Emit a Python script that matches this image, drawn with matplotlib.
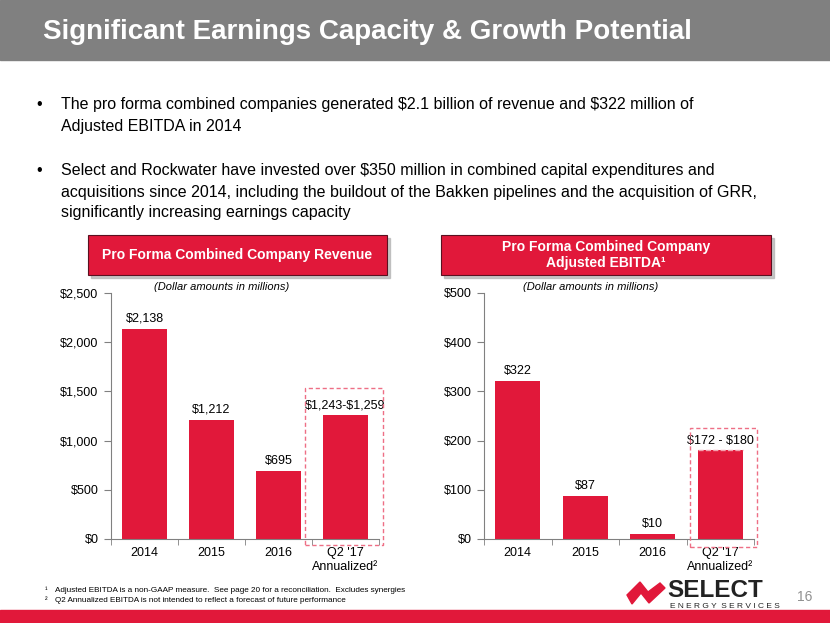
import numpy as np
import matplotlib.pyplot as plt
from matplotlib.patches import Rectangle, Polygon

# Dados
categorias = ["2014", "2015", "2016", "Q2 '17\nAnnualized²"]
receita = [2138, 1212, 695, 1259]
receita_rotulos = ["$2,138", "$1,212", "$695", "$1,243-$1,259"]
ebitda = [322, 87, 10, 180]
ebitda_faixa = (172, 180)
ebitda_rotulos = ["$322", "$87", "$10", "$172 - $180"]
receita_ticks = [0, 500, 1000, 1500, 2000, 2500]
ebitda_ticks = [0, 100, 200, 300, 400, 500]

W, H = 830, 623
VERMELHO = "#E1183A"
CINZA = "#808080"

plt.rcParams['font.family'] = ['Liberation Sans', 'DejaVu Sans']
plt.rcParams['text.parse_math'] = False  # cifrões literais

fig = plt.figure(figsize=(W / 100, H / 100), dpi=100)


def caixa(x0, y0, x1, y1):
    # converte pixels (origem no topo) para fração da figura
    return [x0 / W, 1 - y1 / H, (x1 - x0) / W, (y1 - y0) / H]


# Fundo / elementos do slide
bg = fig.add_axes([0, 0, 1, 1], zorder=0)
bg.set_xlim(0, W)
bg.set_ylim(H, 0)
bg.axis('off')

bg.add_patch(Rectangle((0, 0), W, 60, color=CINZA))
bg.text(43, 32, "Significant Earnings Capacity & Growth Potential", color="white",
        fontsize=20, fontweight="bold", va="center", ha="left")

bullets = [
    (105, "The pro forma combined companies generated $2.1 billion of revenue and $322 million of"),
    (127, "Adjusted EBITDA in 2014"),
    (171, "Select and Rockwater have invested over $350 million in combined capital expenditures and"),
    (192, "acquisitions since 2014, including the buildout of the Bakken pipelines and the acquisition of GRR,"),
    (213, "significantly increasing earnings capacity"),
]
for y, txt in bullets:
    bg.text(61, y, txt, fontsize=11.5, va="center", ha="left", color="black")
bg.text(36, 105, "•", fontsize=11.5, va="center")
bg.text(36, 171, "•", fontsize=11.5, va="center")

# Cabeçalhos vermelhos com sombra
for (x0, x1, txt) in [(88, 387, "Pro Forma Combined Company Revenue"),
                      (441, 771, "Pro Forma Combined Company\nAdjusted EBITDA¹")]:
    bg.add_patch(Rectangle((x0 + 3, 238), x1 - x0, 40, color="#B0B0B0", alpha=0.7))
    bg.add_patch(Rectangle((x0, 235), x1 - x0, 40, facecolor=VERMELHO, edgecolor="#5A1020", lw=0.8))
    bg.text((x0 + x1) / 2, 255, txt, color="white", fontsize=10, fontweight="bold",
            ha="center", va="center", linespacing=1.1)

bg.text(222, 287, "(Dollar amounts in millions)", fontsize=8, style="italic", ha="center", va="center")
bg.text(591, 287, "(Dollar amounts in millions)", fontsize=8, style="italic", ha="center", va="center")

# Notas de rodapé
bg.text(45, 590, "¹", fontsize=5.5, va="center")
bg.text(55, 590, "Adjusted EBITDA is a non-GAAP measure.  See page 20 for a reconciliation.  Excludes synergies",
        fontsize=5.9, va="center")
bg.text(45, 601, "²", fontsize=5.5, va="center")
bg.text(55, 601, "Q2 Annualized EBITDA is not intended to reflect a forecast of future performance",
        fontsize=5.9, va="center")
bg.text(805, 597, "16", fontsize=10, color="#909090", ha="center", va="center")
bg.add_patch(Rectangle((0, 610), W, 13, color=VERMELHO))

# Logo (aproximação)
bg.add_patch(Polygon([(627, 595), (640, 582), (648, 592), (660, 583), (665, 588), (649, 603),
                      (641, 593), (632, 604)], closed=True, color=VERMELHO))
bg.text(667, 597, "SELECT", fontsize=17.5, fontweight="heavy", color="#222222", va="baseline", ha="left")
bg.text(670, 607, "E N E R G Y  S E R V I C E S", fontsize=6, color="#222222", va="center", ha="left")


def grafico(pos, valores, rotulos, ticks, passo_rotulo, caixa_tracejada, faixa=None):
    ax = fig.add_axes(caixa(*pos), zorder=2)
    ax.patch.set_alpha(0)
    x = np.arange(len(valores))
    ax.bar(x, valores, width=0.67, color=VERMELHO, zorder=2)
    if faixa is not None:
        ax.plot([3 - 0.335, 3 + 0.335], [faixa[1], faixa[1]], ls="--", color="#F4A0AE", lw=1, zorder=3)
    for xi, v, r in zip(x, valores, rotulos):
        ax.text(xi, v + passo_rotulo, r, ha="center", va="bottom", fontsize=9)
    x0, x1, y0, y1 = caixa_tracejada
    ax.add_patch(Rectangle((x0, y0), x1 - x0, y1 - y0, fill=False, ls=(0, (3, 2)),
                           edgecolor="#EE6F85", lw=1, clip_on=False, zorder=4))
    ax.set_xlim(-0.5, 3.5)
    ax.set_ylim(0, ticks[-1])
    ax.set_yticks(ticks)
    ax.set_yticklabels([f"${t:,}" for t in ticks], fontsize=9)
    ax.set_xticks(x)
    ax.set_xticklabels(categorias, fontsize=9)
    ax.set_xticks([-0.5, 0.5, 1.5, 2.5, 3.5], minor=True)
    ax.tick_params(axis='x', which='major', length=0, pad=6)
    ax.tick_params(axis='x', which='minor', length=4, color="#808080")
    ax.tick_params(axis='y', length=5, color="#808080", pad=4)
    for s in ["top", "right"]:
        ax.spines[s].set_visible(False)
    ax.spines["left"].set_color("#808080")
    ax.spines["bottom"].set_color("#808080")
    return ax


grafico((111, 293, 379, 539), receita, receita_rotulos, receita_ticks, 40,
        (2.4, 3.56, -60, 1535))
grafico((484, 293, 754, 539), ebitda, ebitda_rotulos, ebitda_ticks, 8,
        (2.55, 3.55, -16, 225), faixa=ebitda_faixa)

fig.savefig("out.png", dpi=100)
